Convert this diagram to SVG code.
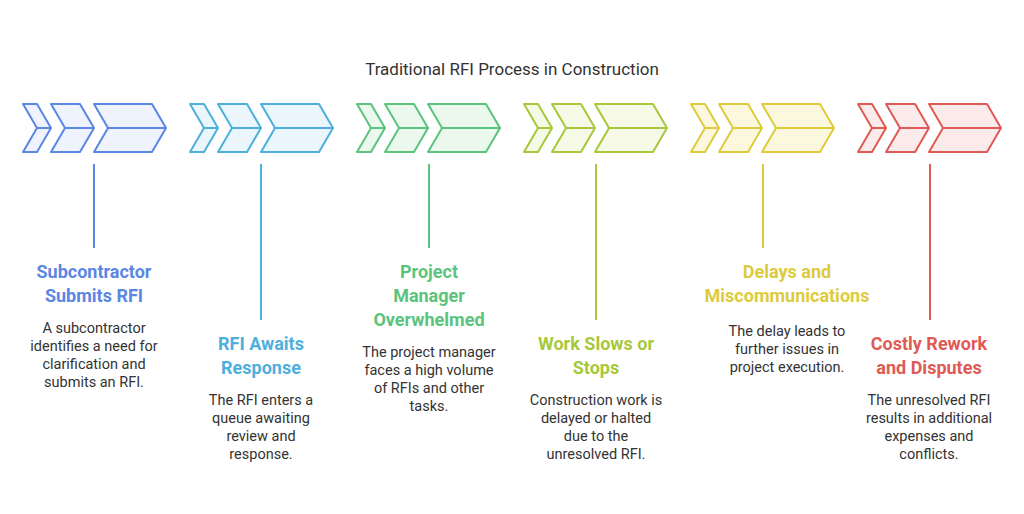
<svg xmlns="http://www.w3.org/2000/svg" width="1024" height="514" viewBox="0 0 1024 514">
<defs>
<style>
text{font-family:Roboto,"Liberation Sans",sans-serif;text-anchor:middle}
.t{font-size:17px;fill:#333}
.h{font-size:18px;font-weight:bold}
.b{font-size:14.5px;fill:#333}
.ch{stroke-width:2;stroke-linejoin:round}
</style>
<g id="chev">
<path d="M0,0H14L28,24L14,48H0L14,24Z M14,24H28"/>
<path d="M28,0H57L71,24L57,48H28L42,24Z M42,24H71"/>
<path d="M71,0H129L143,24L129,48H71L85,24Z M85,24H143"/>
</g>
</defs>
<rect width="1024" height="514" fill="#fff"/>
<text class="t" x="512" y="75">Traditional RFI Process in Construction</text>
<g id="n1"><use href="#chev" x="23" y="104" class="ch" fill="#eef3fd" stroke="#5c86e3"/>
<text class="h" fill="#5c86e3"><tspan x="94" y="278">Subcontractor</tspan><tspan x="94" y="302">Submits RFI</tspan></text>
<text class="b"><tspan x="94" y="333">A subcontractor</tspan><tspan x="94" y="351">identifies a need for</tspan><tspan x="94" y="369">clarification and</tspan><tspan x="94" y="387">submits an RFI.</tspan></text></g>
<g id="n2"><use href="#chev" x="190" y="104" class="ch" fill="#eaf6fc" stroke="#4fafdc"/>
<text class="h" fill="#4fafdc"><tspan x="261" y="350">RFI Awaits</tspan><tspan x="261" y="374">Response</tspan></text>
<text class="b"><tspan x="261" y="405">The RFI enters a</tspan><tspan x="261" y="423">queue awaiting</tspan><tspan x="261" y="441">review and</tspan><tspan x="261" y="459">response.</tspan></text></g>
<g id="n3"><use href="#chev" x="357" y="104" class="ch" fill="#ebf8ee" stroke="#5bc47c"/>
<text class="h" fill="#5bc47c"><tspan x="429" y="278">Project</tspan><tspan x="429" y="302">Manager</tspan><tspan x="429" y="326">Overwhelmed</tspan></text>
<text class="b"><tspan x="429" y="357">The project manager</tspan><tspan x="429" y="375">faces a high volume</tspan><tspan x="429" y="393">of RFIs and other</tspan><tspan x="429" y="411">tasks.</tspan></text></g>
<g id="n4"><use href="#chev" x="524" y="104" class="ch" fill="#f5f9e6" stroke="#a6c83a"/>
<text class="h" fill="#a6c83a"><tspan x="596" y="350">Work Slows or</tspan><tspan x="596" y="374">Stops</tspan></text>
<text class="b"><tspan x="596" y="405">Construction work is</tspan><tspan x="596" y="423">delayed or halted</tspan><tspan x="596" y="441">due to the</tspan><tspan x="596" y="459">unresolved RFI.</tspan></text></g>
<g id="n5"><use href="#chev" x="691" y="104" class="ch" fill="#fcf8dd" stroke="#ddcb3c"/>
<text class="h" fill="#ddcb3c"><tspan x="787" y="278">Delays and</tspan><tspan x="787" y="302">Miscommunications</tspan></text>
<text class="b"><tspan x="787" y="336">The delay leads to</tspan><tspan x="787" y="354">further issues in</tspan><tspan x="787" y="372">project execution.</tspan></text></g>
<g id="n6"><use href="#chev" x="858" y="104" class="ch" fill="#fbeceb" stroke="#e05a55"/>
<text class="h" fill="#e05a55"><tspan x="929" y="350">Costly Rework</tspan><tspan x="929" y="374">and Disputes</tspan></text>
<text class="b"><tspan x="929" y="405">The unresolved RFI</tspan><tspan x="929" y="423">results in additional</tspan><tspan x="929" y="441">expenses and</tspan><tspan x="929" y="459">conflicts.</tspan></text></g>
<g id="connectors" stroke-width="2">
<line x1="94" y1="164" x2="94" y2="248" stroke="#5c86e3"/>
<line x1="261" y1="164" x2="261" y2="320" stroke="#4fafdc"/>
<line x1="429" y1="164" x2="429" y2="248" stroke="#5bc47c"/>
<line x1="596" y1="164" x2="596" y2="320" stroke="#a6c83a"/>
<line x1="763" y1="164" x2="763" y2="248" stroke="#ddcb3c"/>
<line x1="930" y1="164" x2="930" y2="320" stroke="#e05a55"/>
</g>
</svg>
